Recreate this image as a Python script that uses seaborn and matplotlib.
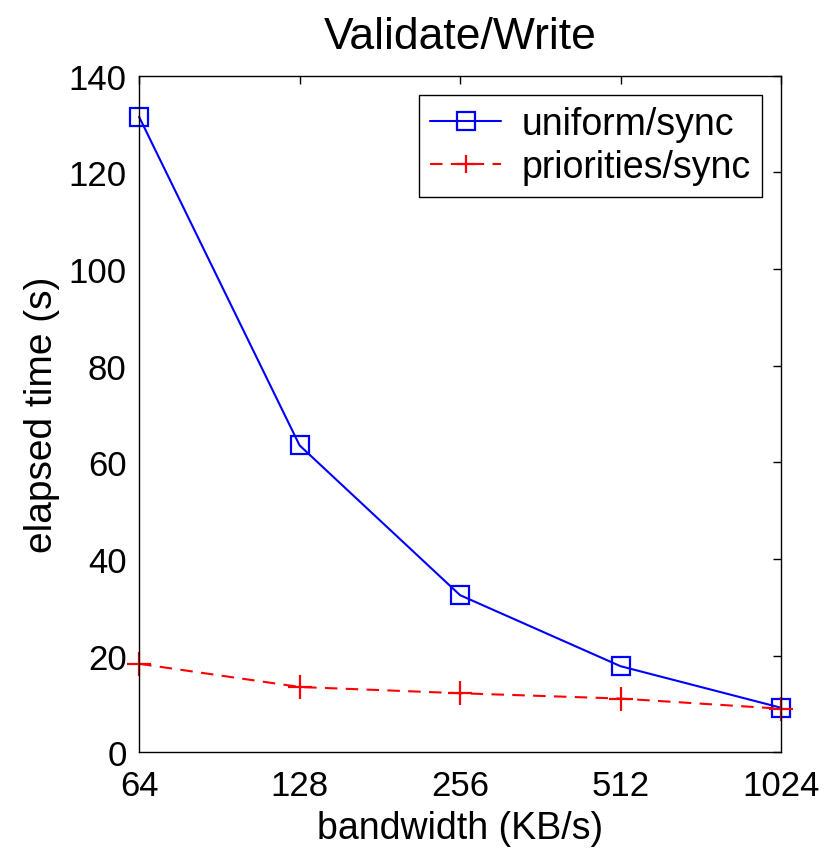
import matplotlib
matplotlib.use("Agg")
import matplotlib.pyplot as plt
import seaborn as sns
import pandas as pd

bandwidth = [64, 128, 256, 512, 1024]
uniform_sync = [131.5, 63.5, 32.5, 17.8, 9.2]
priorities_sync = [18.3, 13.5, 12.2, 11.1, 9.0]
xtick_labels = ["64", "128", "256", "512", "1024"]

sns.set_theme(style="white")
plt.rcParams['font.family'] = ['Liberation Sans', 'DejaVu Sans']
plt.rcParams['text.color'] = 'black'
plt.rcParams['axes.labelcolor'] = 'black'

fig = plt.figure(figsize=(8.38, 8.53), dpi=100)
ax = fig.add_axes([0.166, 0.117, 0.766, 0.793])

df_u = pd.DataFrame({"bw": bandwidth, "t": uniform_sync})
df_p = pd.DataFrame({"bw": bandwidth, "t": priorities_sync})

sns.lineplot(data=df_u, x="bw", y="t", ax=ax, color="#0000ff", linewidth=1.5,
             marker="s", markersize=13.5, markerfacecolor="none",
             markeredgecolor="#0000ff", markeredgewidth=1.6, label="uniform/sync")
sns.lineplot(data=df_p, x="bw", y="t", ax=ax, color="#ff0000", linewidth=1.5,
             marker="+", markersize=17, markeredgewidth=1.6,
             markeredgecolor="#ff0000", label="priorities/sync")
ax.lines[1].set_linestyle((0, (6, 4)))
for ln in ax.lines:
    ln.set_clip_on(False)

ax.set_xscale("log", base=2)
ax.set_xlim(64, 1024)
ax.set_ylim(0, 140)
ax.set_xticks(bandwidth)
ax.set_xticklabels(xtick_labels)
ax.minorticks_off()
ax.set_yticks(range(0, 141, 20))

ax.tick_params(axis="both", which="both", direction="in", length=6, width=1,
               top=True, right=True, labelsize=25, colors="black")
ax.tick_params(axis="x", pad=12)
ax.tick_params(axis="y", pad=9)
for sp in ax.spines.values():
    sp.set_color("black")
    sp.set_linewidth(1)

ax.set_title("Validate/Write", fontsize=32, pad=20, color="black")
ax.set_xlabel("bandwidth (KB/s)", fontsize=27, labelpad=6, color="black")
ax.set_ylabel("elapsed time (s)", fontsize=28, labelpad=6, color="black")

leg = ax.legend(loc="upper right", fontsize=27, frameon=True, fancybox=False,
                edgecolor="black", framealpha=1, handlelength=1.9,
                handletextpad=0.55, borderpad=0.3,
                borderaxespad=0.5, labelspacing=0.2)
leg.get_frame().set_linewidth(1)
for l in leg.get_lines():
    l.set_markersize(13)
leg.get_lines()[1].set_linestyle((0, (6, 4)))
for t in leg.get_texts():
    t.set_color("black")

fig.savefig("out.png", dpi=100)
